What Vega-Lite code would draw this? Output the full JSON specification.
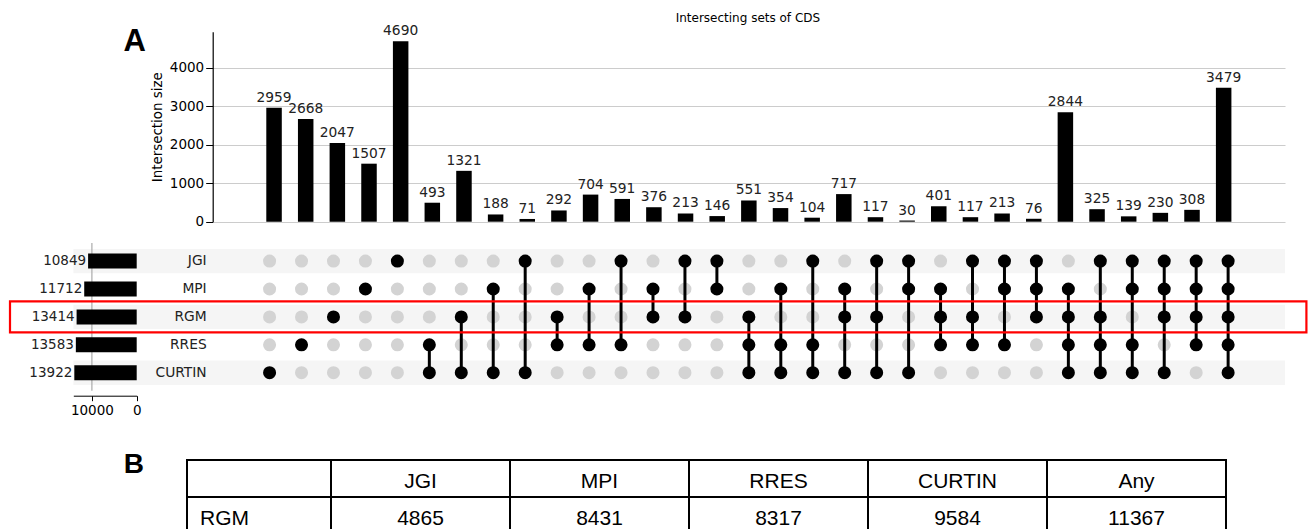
{
  "$schema": "https://vega.github.io/schema/vega-lite/v6.json",
  "width": 1309,
  "height": 529,
  "autosize": {"type": "none"},
  "padding": 0,
  "background": "white",
  "config": {"view": {"stroke": null}, "font": "DejaVu Sans"},
  "datasets": {
    "inter": [
      {"idx": 1, "size": 2959, "JGI": 0, "MPI": 0, "RGM": 0, "RRES": 0, "CURTIN": 1},
      {"idx": 2, "size": 2668, "JGI": 0, "MPI": 0, "RGM": 0, "RRES": 1, "CURTIN": 0},
      {"idx": 3, "size": 2047, "JGI": 0, "MPI": 0, "RGM": 1, "RRES": 0, "CURTIN": 0},
      {"idx": 4, "size": 1507, "JGI": 0, "MPI": 1, "RGM": 0, "RRES": 0, "CURTIN": 0},
      {"idx": 5, "size": 4690, "JGI": 1, "MPI": 0, "RGM": 0, "RRES": 0, "CURTIN": 0},
      {"idx": 6, "size": 493, "JGI": 0, "MPI": 0, "RGM": 0, "RRES": 1, "CURTIN": 1},
      {"idx": 7, "size": 1321, "JGI": 0, "MPI": 0, "RGM": 1, "RRES": 0, "CURTIN": 1},
      {"idx": 8, "size": 188, "JGI": 0, "MPI": 1, "RGM": 0, "RRES": 0, "CURTIN": 1},
      {"idx": 9, "size": 71, "JGI": 1, "MPI": 0, "RGM": 0, "RRES": 0, "CURTIN": 1},
      {"idx": 10, "size": 292, "JGI": 0, "MPI": 0, "RGM": 1, "RRES": 1, "CURTIN": 0},
      {"idx": 11, "size": 704, "JGI": 0, "MPI": 1, "RGM": 0, "RRES": 1, "CURTIN": 0},
      {"idx": 12, "size": 591, "JGI": 1, "MPI": 0, "RGM": 0, "RRES": 1, "CURTIN": 0},
      {"idx": 13, "size": 376, "JGI": 0, "MPI": 1, "RGM": 1, "RRES": 0, "CURTIN": 0},
      {"idx": 14, "size": 213, "JGI": 1, "MPI": 0, "RGM": 1, "RRES": 0, "CURTIN": 0},
      {"idx": 15, "size": 146, "JGI": 1, "MPI": 1, "RGM": 0, "RRES": 0, "CURTIN": 0},
      {"idx": 16, "size": 551, "JGI": 0, "MPI": 0, "RGM": 1, "RRES": 1, "CURTIN": 1},
      {"idx": 17, "size": 354, "JGI": 0, "MPI": 1, "RGM": 0, "RRES": 1, "CURTIN": 1},
      {"idx": 18, "size": 104, "JGI": 1, "MPI": 0, "RGM": 0, "RRES": 1, "CURTIN": 1},
      {"idx": 19, "size": 717, "JGI": 0, "MPI": 1, "RGM": 1, "RRES": 0, "CURTIN": 1},
      {"idx": 20, "size": 117, "JGI": 1, "MPI": 0, "RGM": 1, "RRES": 0, "CURTIN": 1},
      {"idx": 21, "size": 30, "JGI": 1, "MPI": 1, "RGM": 0, "RRES": 0, "CURTIN": 1},
      {"idx": 22, "size": 401, "JGI": 0, "MPI": 1, "RGM": 1, "RRES": 1, "CURTIN": 0},
      {"idx": 23, "size": 117, "JGI": 1, "MPI": 0, "RGM": 1, "RRES": 1, "CURTIN": 0},
      {"idx": 24, "size": 213, "JGI": 1, "MPI": 1, "RGM": 0, "RRES": 1, "CURTIN": 0},
      {"idx": 25, "size": 76, "JGI": 1, "MPI": 1, "RGM": 1, "RRES": 0, "CURTIN": 0},
      {"idx": 26, "size": 2844, "JGI": 0, "MPI": 1, "RGM": 1, "RRES": 1, "CURTIN": 1},
      {"idx": 27, "size": 325, "JGI": 1, "MPI": 0, "RGM": 1, "RRES": 1, "CURTIN": 1},
      {"idx": 28, "size": 139, "JGI": 1, "MPI": 1, "RGM": 0, "RRES": 1, "CURTIN": 1},
      {"idx": 29, "size": 230, "JGI": 1, "MPI": 1, "RGM": 1, "RRES": 0, "CURTIN": 1},
      {"idx": 30, "size": 308, "JGI": 1, "MPI": 1, "RGM": 1, "RRES": 1, "CURTIN": 0},
      {"idx": 31, "size": 3479, "JGI": 1, "MPI": 1, "RGM": 1, "RRES": 1, "CURTIN": 1}
    ],
    "sets": [
      {"set": "JGI", "row": 0, "total": 10849},
      {"set": "MPI", "row": 1, "total": 11712},
      {"set": "RGM", "row": 2, "total": 13414},
      {"set": "RRES", "row": 3, "total": 13583},
      {"set": "CURTIN", "row": 4, "total": 13922}
    ],
    "table": [
      {"col": "JGI", "row": "head", "text": "JGI"},
      {"col": "MPI", "row": "head", "text": "MPI"},
      {"col": "RRES", "row": "head", "text": "RRES"},
      {"col": "CURTIN", "row": "head", "text": "CURTIN"},
      {"col": "Any", "row": "head", "text": "Any"},
      {"col": "JGI", "row": "RGM", "text": "4865"},
      {"col": "MPI", "row": "RGM", "text": "8431"},
      {"col": "RRES", "row": "RGM", "text": "8317"},
      {"col": "CURTIN", "row": "RGM", "text": "9584"},
      {"col": "Any", "row": "RGM", "text": "11367"}
    ],
    "tablehead": [
      {"col": "label", "row": "head", "text": ""},
      {"col": "label", "row": "RGM", "text": "RGM"}
    ]
  },
  "resolve": {"scale": {"x": "independent", "y": "independent"}, "axis": {"x": "independent", "y": "independent"}},
  "layer": [
    {
      "layer": [
        {
          "data": {"name": "inter"},
          "mark": {"type": "bar", "orient": "vertical", "size": 15.5, "color": "black"},
          "encoding": {
            "x": {"field": "idx", "type": "quantitative", "scale": {"domain": [-0.78, 32.78], "range": [212.7, 1285], "nice": false, "zero": false}, "axis": null},
            "y": {"field": "size", "type": "quantitative", "stack": null,
              "scale": {"domain": [0, 4935], "range": [221.7, 31.7], "nice": false},
              "axis": {"orient": "left", "offset": -212.7, "title": "Intersection size", "values": [0, 1000, 2000, 3000, 4000], "format": "d",
                "grid": true, "gridColor": "#cccccc", "gridWidth": 1.2, "domainColor": "black", "domainWidth": 1.2, "tickColor": "black", "tickSize": 7,
                "labelFontSize": 13.5, "labelColor": "black", "labelPadding": 2, "titleFontSize": 13.4, "titleFontWeight": "normal", "titleColor": "black", "titlePadding": 5}}
          }
        },
        {
          "data": {"name": "inter"},
          "mark": {"type": "text", "baseline": "bottom", "dy": -3, "fontSize": 13.8, "color": "#222222"},
          "encoding": {
            "x": {"field": "idx", "type": "quantitative"},
            "y": {"field": "size", "type": "quantitative"},
            "text": {"field": "size", "type": "quantitative", "format": "d"}
          }
        },
        {
          "data": {"values": [{"t": "Intersecting sets of CDS"}]},
          "mark": {"type": "text", "fontSize": 12, "align": "center", "baseline": "middle", "color": "black"},
          "encoding": {
            "x": {"datum": 15.97, "type": "quantitative"},
            "y": {"datum": 5291, "type": "quantitative"},
            "text": {"field": "t"}
          }
        },
        {
          "data": {"values": [{"t": "A"}]},
          "mark": {"type": "text", "fontSize": 31, "fontWeight": "bold", "font": "Liberation Sans", "align": "center", "baseline": "middle", "color": "black"},
          "encoding": {
            "x": {"datum": -3.4, "type": "quantitative"},
            "y": {"datum": 4668, "type": "quantitative"},
            "text": {"field": "t"}
          }
        },
        {
          "data": {"values": [{"t": "B"}]},
          "mark": {"type": "text", "fontSize": 28, "fontWeight": "bold", "font": "Liberation Sans", "align": "center", "baseline": "middle", "color": "black"},
          "encoding": {
            "x": {"datum": -3.43, "type": "quantitative"},
            "y": {"datum": -6320, "type": "quantitative"},
            "text": {"field": "t"}
          }
        }
      ]
    },
    {
      "resolve": {"scale": {"x": "independent"}, "axis": {"x": "independent"}},
      "layer": [
        {
          "data": {"name": "sets"},
          "transform": [{"filter": "datum.row % 2 == 0"}],
          "mark": {"type": "bar", "orient": "horizontal", "size": 24.3, "color": "#f5f5f5"},
          "encoding": {
            "x": {"datum": -5.14, "type": "quantitative", "scale": {"domain": [-0.78, 32.78], "range": [212.7, 1285], "nice": false, "zero": false}, "axis": null},
            "x2": {"datum": 32.78},
            "y": {"field": "row", "type": "quantitative", "scale": {"domain": [-0.648, 4.644], "range": [238, 395.7], "nice": false, "zero": false}, "axis": null}
          }
        },
        {
          "layer": [
            {
              "data": {"values": [{"tick": 10000}]},
              "mark": {"type": "rule", "color": "#aaaaaa", "strokeWidth": 1.2},
              "encoding": {
                "x": {"field": "tick", "type": "quantitative", "stack": null,
                  "scale": {"domain": [0, 14150], "range": [136.7, 73.3], "nice": false},
                  "axis": {"orient": "bottom", "offset": -133.3, "values": [0, 10000], "format": "d", "title": null, "grid": false,
                    "domainColor": "black", "tickColor": "black", "tickSize": 5, "labelFontSize": 13.5, "labelColor": "black", "labelPadding": 3,
                    "labelFlush": false, "labelOverlap": false}},
                "y": {"datum": -0.648, "type": "quantitative"},
                "y2": {"datum": 4.644}
              }
            },
            {
              "data": {"name": "sets"},
              "mark": {"type": "bar", "orient": "horizontal", "size": 15, "color": "black"},
              "encoding": {
                "x": {"field": "total", "type": "quantitative", "stack": null},
                "y": {"field": "row", "type": "quantitative"}
              }
            },
            {
              "data": {"name": "sets"},
              "mark": {"type": "text", "align": "right", "baseline": "middle", "dx": -2, "fontSize": 13.5, "color": "#222222"},
              "encoding": {
                "x": {"field": "total", "type": "quantitative"},
                "y": {"field": "row", "type": "quantitative"},
                "text": {"field": "total", "type": "quantitative", "format": "d"}
              }
            }
          ]
        },
        {
          "layer": [
            {
              "data": {"name": "inter"},
              "transform": [
                {"fold": ["JGI", "MPI", "RGM", "RRES", "CURTIN"], "as": ["set", "member"]},
                {"filter": "datum.member == 0"},
                {"lookup": "set", "from": {"data": {"name": "sets"}, "key": "set", "fields": ["row"]}}
              ],
              "mark": {"type": "circle", "size": 170, "opacity": 1, "color": "#d3d3d3"},
              "encoding": {
                "x": {"field": "idx", "type": "quantitative", "scale": {"domain": [-0.78, 32.78], "range": [212.7, 1285], "nice": false, "zero": false}, "axis": null},
                "y": {"field": "row", "type": "quantitative"}
              }
            },
            {
              "data": {"name": "inter"},
              "transform": [
                {"fold": ["JGI", "MPI", "RGM", "RRES", "CURTIN"], "as": ["set", "member"]},
                {"filter": "datum.member == 1"},
                {"lookup": "set", "from": {"data": {"name": "sets"}, "key": "set", "fields": ["row"]}},
                {"aggregate": [{"op": "min", "field": "row", "as": "lo"}, {"op": "max", "field": "row", "as": "hi"}], "groupby": ["idx"]},
                {"filter": "datum.hi > datum.lo"}
              ],
              "mark": {"type": "rule", "strokeWidth": 3, "color": "black"},
              "encoding": {
                "x": {"field": "idx", "type": "quantitative"},
                "y": {"field": "lo", "type": "quantitative"},
                "y2": {"field": "hi"}
              }
            },
            {
              "data": {"name": "inter"},
              "transform": [
                {"fold": ["JGI", "MPI", "RGM", "RRES", "CURTIN"], "as": ["set", "member"]},
                {"filter": "datum.member == 1"},
                {"lookup": "set", "from": {"data": {"name": "sets"}, "key": "set", "fields": ["row"]}}
              ],
              "mark": {"type": "circle", "size": 170, "opacity": 1, "color": "black"},
              "encoding": {
                "x": {"field": "idx", "type": "quantitative"},
                "y": {"field": "row", "type": "quantitative"}
              }
            },
            {
              "data": {"name": "sets"},
              "mark": {"type": "text", "align": "right", "baseline": "middle", "fontSize": 13.8, "color": "#222222"},
              "encoding": {
                "x": {"datum": -0.968, "type": "quantitative"},
                "y": {"field": "row", "type": "quantitative"},
                "text": {"field": "set"}
              }
            },
            {
              "data": {"name": "sets"},
              "transform": [{"filter": "datum.set == 'RGM'"}],
              "mark": {"type": "bar", "orient": "horizontal", "size": 31, "filled": false, "color": "#ff0000", "strokeWidth": 2.2},
              "encoding": {
                "x": {"datum": -7.124, "type": "quantitative"},
                "x2": {"datum": 33.45},
                "y": {"field": "row", "type": "quantitative"}
              }
            }
          ]
        }
      ]
    },
    {
      "resolve": {"scale": {"x": "independent"}, "axis": {"x": "independent"}},
      "layer": [
        {
          "data": {"name": "tablehead"},
          "layer": [
            {
              "mark": {"type": "rect", "filled": false, "color": "black", "strokeWidth": 2},
              "encoding": {
                "x": {"field": "col", "type": "nominal", "scale": {"type": "band", "domain": ["label"], "range": [187, 331], "paddingInner": 0, "paddingOuter": 0}, "axis": null},
                "y": {"field": "row", "type": "nominal", "scale": {"type": "band", "domain": ["head", "RGM"], "range": [460, 534], "paddingInner": 0, "paddingOuter": 0}, "axis": null}
              }
            },
            {
              "mark": {"type": "text", "align": "left", "baseline": "alphabetic", "dx": 13, "fontSize": 21, "font": "Liberation Sans", "color": "black"},
              "encoding": {
                "x": {"field": "col", "type": "nominal", "bandPosition": 0},
                "y": {"field": "row", "type": "nominal", "bandPosition": 0.75},
                "text": {"field": "text"}
              }
            }
          ]
        },
        {
          "data": {"name": "table"},
          "layer": [
            {
              "mark": {"type": "rect", "filled": false, "color": "black", "strokeWidth": 2},
              "encoding": {
                "x": {"field": "col", "type": "nominal", "scale": {"type": "band", "domain": ["JGI", "MPI", "RRES", "CURTIN", "Any"], "range": [331, 1226], "paddingInner": 0, "paddingOuter": 0}, "axis": null},
                "y": {"field": "row", "type": "nominal"}
              }
            },
            {
              "mark": {"type": "text", "align": "center", "baseline": "alphabetic", "fontSize": 21, "font": "Liberation Sans", "color": "black"},
              "encoding": {
                "x": {"field": "col", "type": "nominal"},
                "y": {"field": "row", "type": "nominal", "bandPosition": 0.75},
                "text": {"field": "text"}
              }
            }
          ]
        }
      ]
    }
  ]
}
